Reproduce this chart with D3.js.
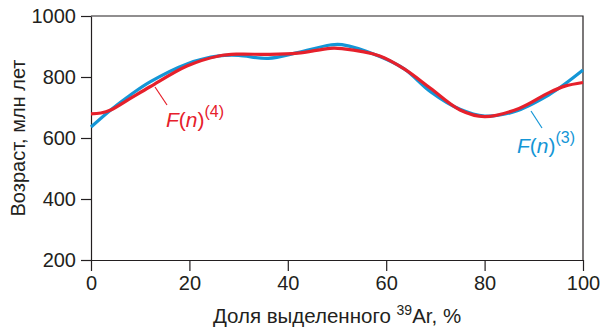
<!DOCTYPE html>
<html>
<head>
<meta charset="utf-8">
<script src="https://cdn.jsdelivr.net/npm/d3@7"></script>
<style>
  html, body { margin: 0; padding: 0; background: #fff; }
  svg text { font-family: "Liberation Sans", Arial, sans-serif; fill: #231f20; }
</style>
</head>
<body>
<div id="chart"></div>
<script>
// values
const xTicks = [0, 20, 40, 60, 80, 100];
const yTicks = [200, 400, 600, 800, 1000];

const f3X = [0, 4, 8, 12, 19.5, 26, 30, 36, 42, 48.6, 51, 58.7, 63.8, 69, 75, 80, 86, 93, 96.3, 100];
const f3Y = [636, 692, 741, 784, 843, 869, 871, 861, 880, 905, 906, 867, 825, 752, 694, 672, 686, 741, 777, 823];

const f4X = [0, 2, 4, 8, 12, 19.5, 26, 30, 36, 42, 48.6, 51, 58.7, 63.8, 69, 75, 80, 87, 93, 96.3, 100];
const f4Y = [679, 682, 692, 730, 768, 836, 869, 875, 874, 878, 894, 893, 869, 825, 763, 692, 670, 697, 748, 770, 782];

const BLUE = '#1496d6';
const RED = '#e6202b';
const INK = '#231f20';

const W = 603, H = 333;
const margin = { top: 16, right: 20, bottom: 73, left: 91 };
const width = W - margin.left - margin.right;
const height = H - margin.top - margin.bottom;

const svgRoot = d3.select('#chart').append('svg')
    .attr('width', W)
    .attr('height', H);

const svg = svgRoot.append('g')
    .attr('transform', `translate(${margin.left},${margin.top})`);

const x = d3.scaleLinear().domain([0, 100]).range([0, width]);
const y = d3.scaleLinear().domain([200, 1000]).range([height, 0]);

// frame on top and right
svg.append('path')
    .attr('d', `M0,0H${width}V${height}`)
    .attr('fill', 'none')
    .attr('stroke', INK)
    .attr('stroke-width', 1.2);

const xAxis = svg.append('g')
    .attr('transform', `translate(0,${height})`)
    .call(d3.axisBottom(x).tickValues(xTicks).tickFormat(d3.format('d'))
        .tickSize(11).tickSizeOuter(0).tickPadding(5));

const yAxis = svg.append('g')
    .call(d3.axisLeft(y).tickValues(yTicks).tickFormat(d3.format('d'))
        .tickSize(10).tickSizeOuter(0).tickPadding(5));

[xAxis, yAxis].forEach(a => {
    a.select('.domain').attr('stroke', INK).attr('stroke-width', 1.2);
    a.selectAll('.tick line').attr('stroke', INK).attr('stroke-width', 1.2);
    a.selectAll('.tick text')
        .style('font-family', '"Liberation Sans", Arial, sans-serif')
        .style('font-size', '20px')
        .attr('fill', INK);
});

// curves
const line = d3.line()
    .x(d => x(d[0]))
    .y(d => y(d[1]))
    .curve(d3.curveCatmullRom.alpha(0.5));

const f3 = f3X.map((v, i) => [v, f3Y[i]]);
const f4 = f4X.map((v, i) => [v, f4Y[i]]);

svg.append('path')
    .attr('d', line(f3))
    .attr('fill', 'none')
    .attr('stroke', BLUE)
    .attr('stroke-width', 3.2);

svg.append('path')
    .attr('d', line(f4))
    .attr('fill', 'none')
    .attr('stroke', RED)
    .attr('stroke-width', 3.2);

// callout labels
function addLabel(color, sup, lx, ly, from, to) {
    svg.append('line')
        .attr('x1', from[0] - margin.left).attr('y1', from[1] - margin.top)
        .attr('x2', to[0] - margin.left).attr('y2', to[1] - margin.top)
        .attr('stroke', color)
        .attr('stroke-width', 1.2);
    const t = svg.append('text')
        .attr('x', lx - margin.left)
        .attr('y', ly - margin.top)
        .style('font-size', '21px')
        .style('fill', color);
    t.append('tspan').style('font-style', 'italic').text('F');
    t.append('tspan').text('(');
    t.append('tspan').style('font-style', 'italic').text('n');
    t.append('tspan').text(')');
    t.append('tspan').attr('dy', -10).style('font-size', '16px').text(`(${sup})`);
}

addLabel(RED, 4, 166, 127, [155, 87], [167, 105]);
addLabel(BLUE, 3, 517, 153, [531, 111], [542, 128]);

// axis titles
const xTitle = svgRoot.append('text')
    .attr('x', margin.left + width / 2)
    .attr('y', 323)
    .attr('text-anchor', 'middle')
    .style('font-size', '20.5px');
xTitle.append('tspan').text('Доля выделенного ');
xTitle.append('tspan').attr('dy', -8).style('font-size', '14px').text('39');
xTitle.append('tspan').attr('dy', 8).text('Ar, %');

svgRoot.append('text')
    .attr('transform', `translate(25,${margin.top + height / 2}) rotate(-90)`)
    .attr('text-anchor', 'middle')
    .style('font-size', '20px')
    .text('Возраст, млн лет');
</script>
</body>
</html>
